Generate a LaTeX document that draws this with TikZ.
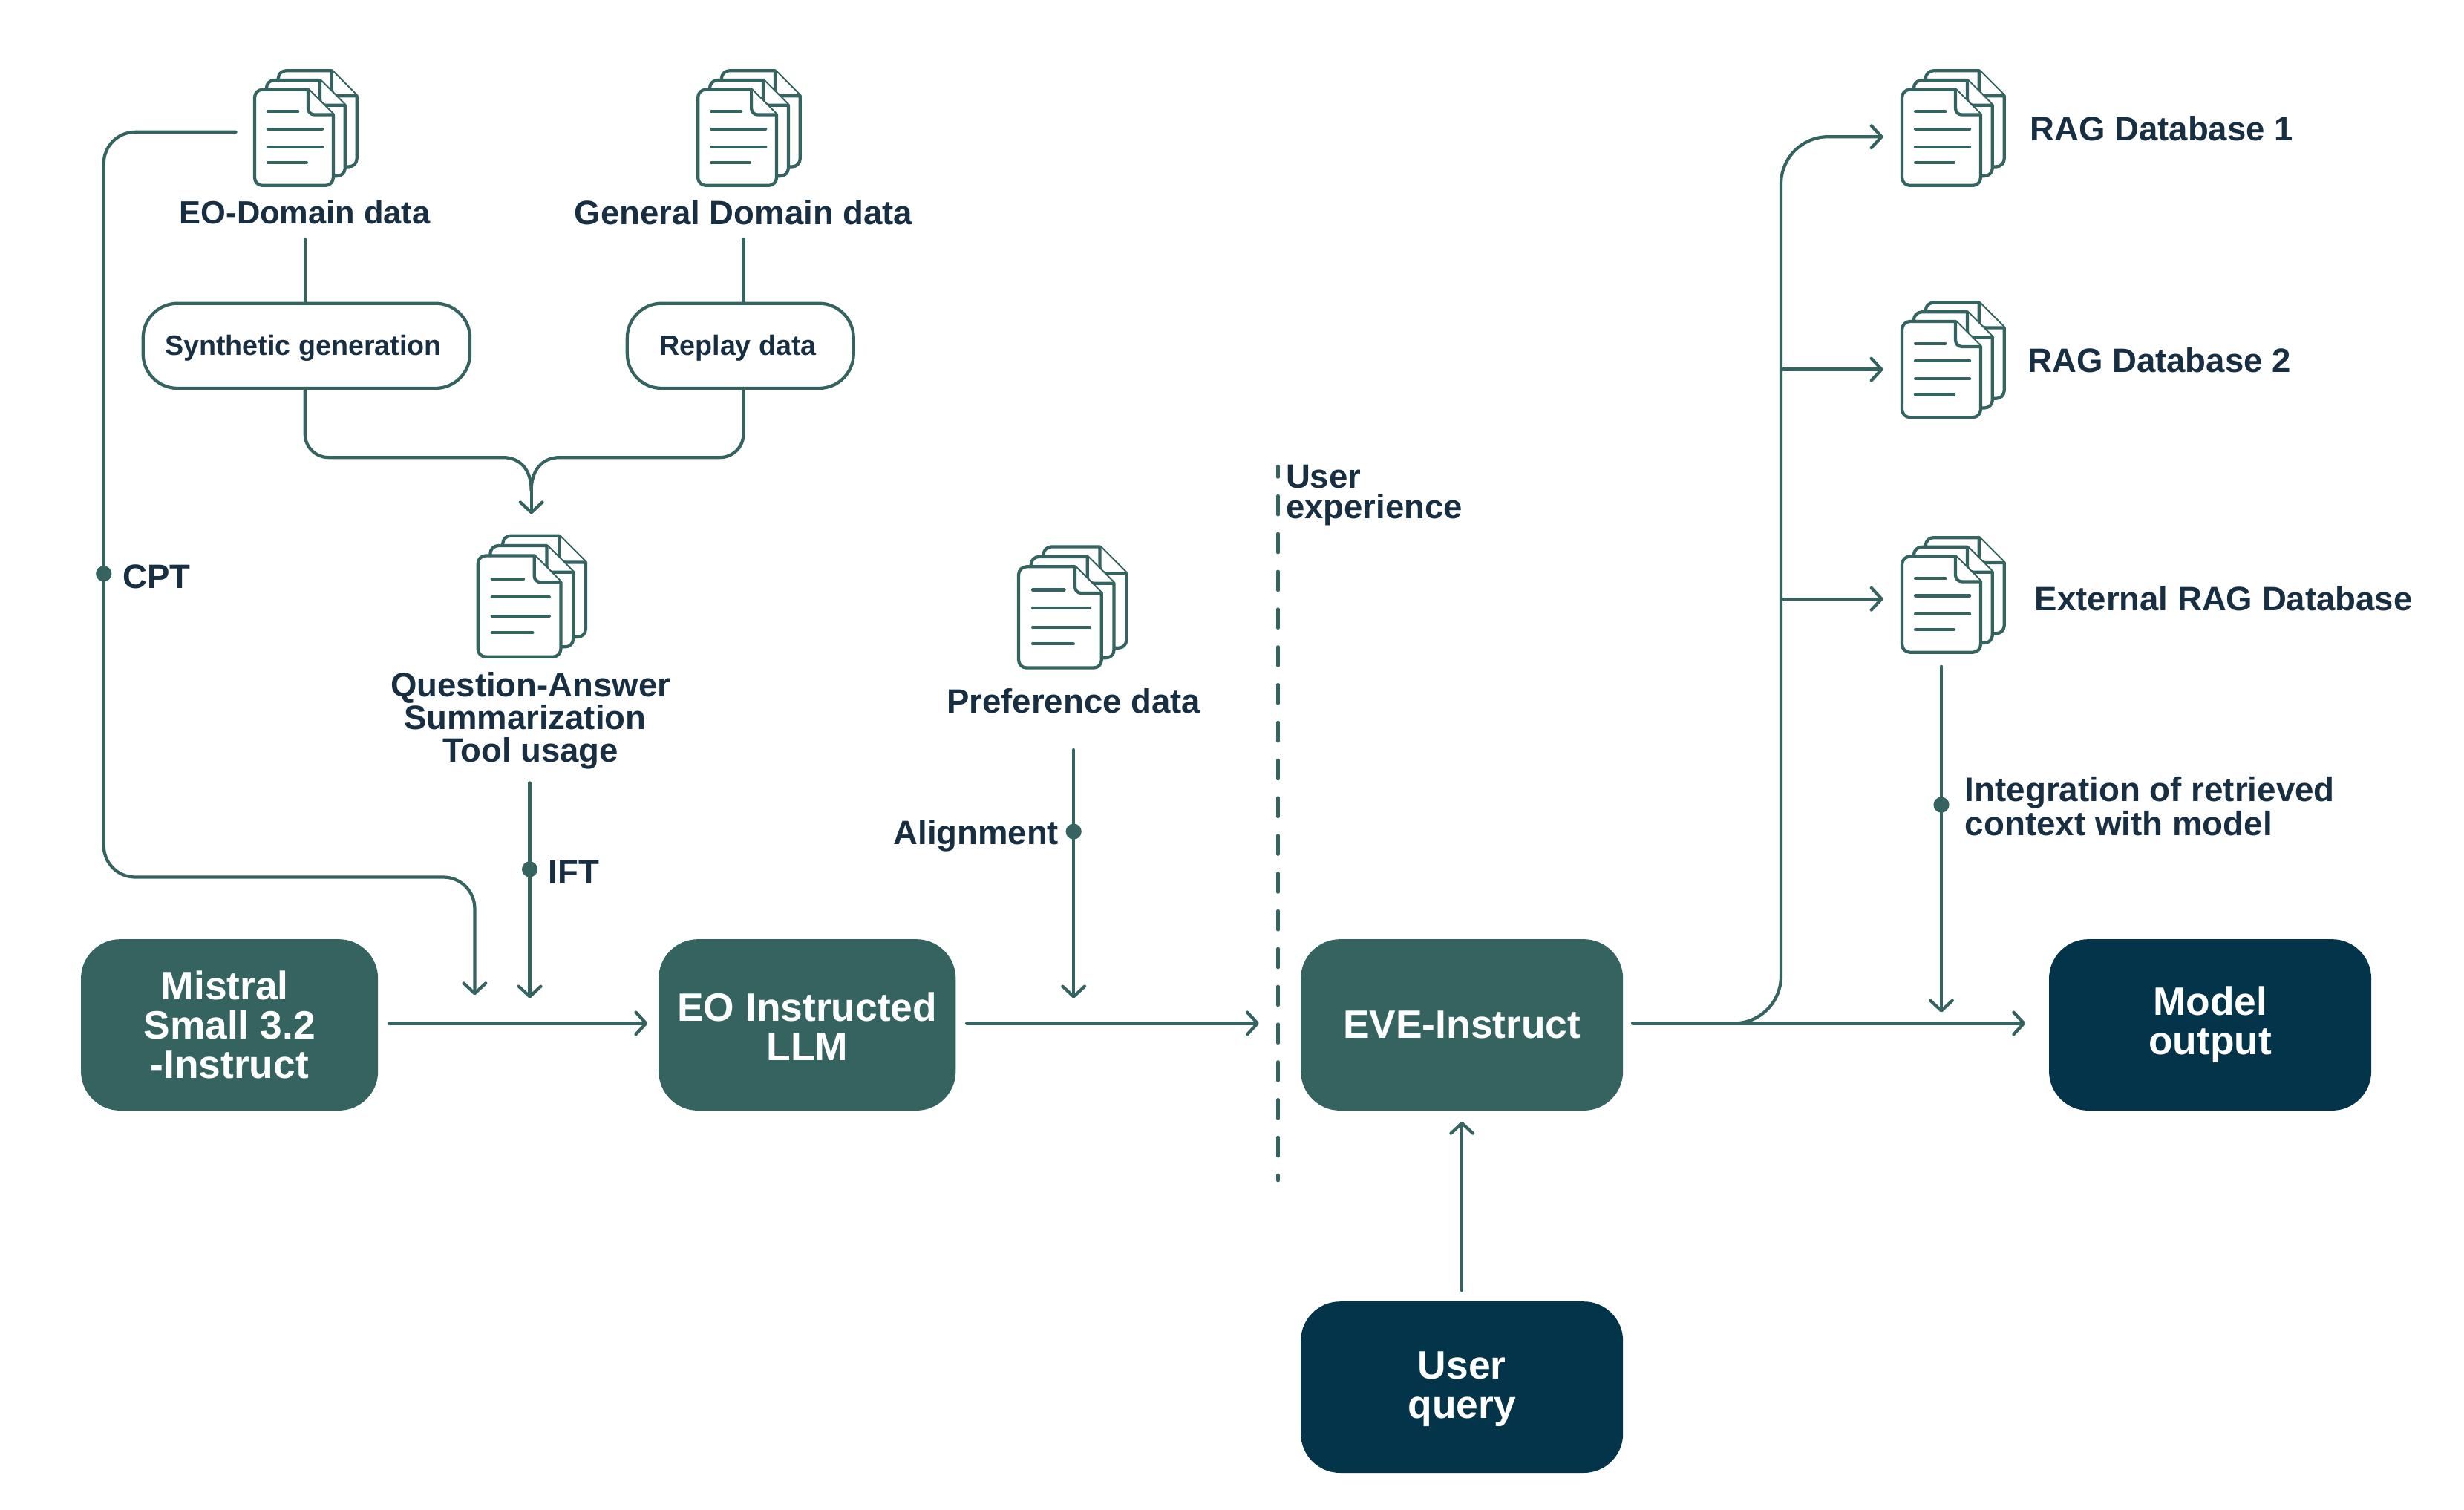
\documentclass[tikz,border=0pt]{standalone}
\usepackage{fontspec}
\setmainfont{Liberation Sans}
\usetikzlibrary{arrows.meta}
\definecolor{teal}{HTML}{35635F}
\definecolor{navy}{HTML}{03344A}
\definecolor{ink}{HTML}{182F43}
\tikzset{
  x=1pt,y=-1pt,
  every node/.style={outer sep=0pt,inner sep=0pt},
  conn/.style={draw=teal,line width=2pt,line cap=round},
  arr/.style={conn,-{Straight Barb[length=6.5pt,width=14pt,line width=2pt,round]}},
  dot/.style={circle,fill=teal,minimum size=10pt},
  lab/.style={text=ink,font=\bfseries\fontsize{21.5}{21}\selectfont,align=center},
  tlab/.style={lab,align=left,anchor=west},
  tealbox/.style={fill=teal,rounded corners=25pt,text=white,align=center,font=\bfseries\fontsize{25.2}{25}\selectfont},
  navybox/.style={tealbox,fill=navy},
  outbox/.style={draw=teal,line width=2pt,fill=white,rounded corners=22pt,text=ink,align=center,font=\bfseries\fontsize{17.8}{18}\selectfont},
  page/.style={draw=teal,line width=2pt,fill=white,line join=round},
  doc/.pic={
    \node[minimum width=66pt,minimum height=73pt,anchor=north west] (-box) at (0,-12) {};
    \foreach \dx/\dy in {15/-12,7.5/-6,0/0}{
      \begin{scope}[shift={(\dx,\dy)}]
        \path[page] (34,0) [rounded corners=5pt] -- (0,0) -- (0,61) -- (50,61) [sharp corners] -- (50,16) -- cycle;
        \path[page,rounded corners=4pt] (34,0) -- (34,16) -- (50,16);
      \end{scope}
    }
    \draw[conn] (8.5,14) -- (27.5,14) (8.5,25) -- (43,25) (8.5,36.5) -- (43,36.5) (8.5,46.5) -- (33,46.5);
  }
}
\begin{document}
\begin{tikzpicture}
\useasboundingbox (0,0) rectangle (1567.5,960.2);
% boxes
\node[tealbox,minimum width=189pt,minimum height=109pt] (mistral) at (146,652) {Mistral\kern6pt\\Small 3.2\\-Instruct};
\node[tealbox,minimum width=189pt,minimum height=109pt] (llm) at (513.5,652) {\rule{0pt}{20.5pt}EO Instructed\\LLM};
\node[tealbox,minimum width=205pt,minimum height=109pt] (eve) at (930,652) {EVE-Instruct};
\node[navybox,minimum width=205pt,minimum height=109pt] (out) at (1406,652) {Model\\output};
\node[navybox,minimum width=205pt,minimum height=109pt] (query) at (930,882.5) {\rule{0pt}{19.5pt}User\\query};
\node[outbox,minimum width=208pt,minimum height=54pt] (syn) at (195,220) {\rule{0pt}{16pt}Synthetic generation\kern4pt};
\node[outbox,minimum width=144pt,minimum height=54pt] (rep) at (471,220) {\rule{0pt}{16pt}Replay data\kern3pt};
% icons
\pic (eoi) at (162,57) {doc};
\pic (gdi) at (444,57) {doc};
\pic[scale=1.055] (qai) at (304,353.5) {doc};
\pic[scale=1.055] (pri) at (648,360.5) {doc};
\pic (r1i) at (1210,57) {doc};
\pic (r2i) at (1210,204.5) {doc};
\pic (r3i) at (1210,354) {doc};
% labels
\node[lab,font=\bfseries\fontsize{20.5}{21}\selectfont] (eol) at (194,135) {EO-Domain data};
\node[lab] (gdl) at (473,135) {General Domain data};
\node[lab] (qal) at (337.5,458.5) {Question-Answer\\Summarization\kern7pt\\Tool usage};
\node[lab] (prl) at (683,446) {Preference data};
\node[tlab] (r1l) at (1291.5,82) {RAG Database 1};
\node[tlab] (r2l) at (1290,229) {RAG Database 2};
\node[tlab] (r3l) at (1294.5,381) {External RAG Database};
\node[tlab] (cptl) at (78,367) {CPT};
\node[tlab] (iftl) at (349,555) {IFT};
\node[lab,anchor=east] (alil) at (673.5,531.5) {Alignment};
\node[tlab,font=\bfseries\fontsize{21.5}{19}\selectfont] (uxl) at (818,315) {User\\experience};
\node[tlab,font=\bfseries\fontsize{21.6}{21.5}\selectfont] (intl) at (1250,513) {Integration of retrieved\\context with model};
% junction and route coordinates
\coordinate (cpt1) at (66,84);
\coordinate (cpt2) at (66,558);
\coordinate (cpt3) at (302,558);
\coordinate (cptend) at (302,633);
\coordinate (mrgm) at (338,312);
\coordinate (qaend) at (337,635);
\coordinate (prend) at (683,635);
\coordinate (dashtop) at (813,296.5);
\coordinate (dashbot) at (813,751);
% connectors
\draw[arr,rounded corners=20pt] ([xshift=-12pt]eoi-box.west |- cpt1) -- (cpt1) -- (cpt2) -- (cpt3) -- (cptend);
\node[dot] (d1) at (66,365) {};
\draw[conn] (194,152) -- (syn.north -| 194,152);
\draw[conn] (473,152) -- (rep.north -| 473,152);
\draw[conn,rounded corners=15pt] (194,247) -- (194,291) -- (320,291);
\draw[conn,rounded corners=15pt] (473,247) -- (473,291) -- (356,291);
\draw[conn] (320,291) .. controls (331,291) and (338,299) .. (mrgm);
\draw[conn] (356,291) .. controls (345,291) and (338,299) .. (mrgm);
\draw[arr] (mrgm) -- (338,327);
\draw[arr] (337,498) -- (qaend);
\node[dot] (d2) at (337,553) {};
\draw[arr] (683,477) -- (prend);
\node[dot] (d3) at (683,529) {};
\draw[arr] ([shift={(7pt,1pt)}]mistral.east) -- ([shift={(-7pt,1pt)}]llm.west);
\draw[arr] ([shift={(7pt,1pt)}]llm.east) -- (801,651);
\draw[conn,dash pattern=on 12pt off 12pt,dash phase=5pt] (dashtop) -- (dashbot);
\draw[arr] ([shift={(6pt,1pt)}]eve.east) -- ([shift={(-15pt,1pt)}]out.west);
\draw[arr,rounded corners=30pt] (1100,651) -- (1133,651) -- (1133,87) -- (1198,87);
\draw[arr] (1133,235) -- (1198,235);
\draw[arr] (1133,381) -- (1198,381);
\draw[arr] (1235,424) -- (1235,644);
\node[dot] (d4) at (1235,512) {};
\draw[arr] ([yshift=7pt]query.north) -- ([yshift=-7pt]eve.south);
\end{tikzpicture}
\end{document}
